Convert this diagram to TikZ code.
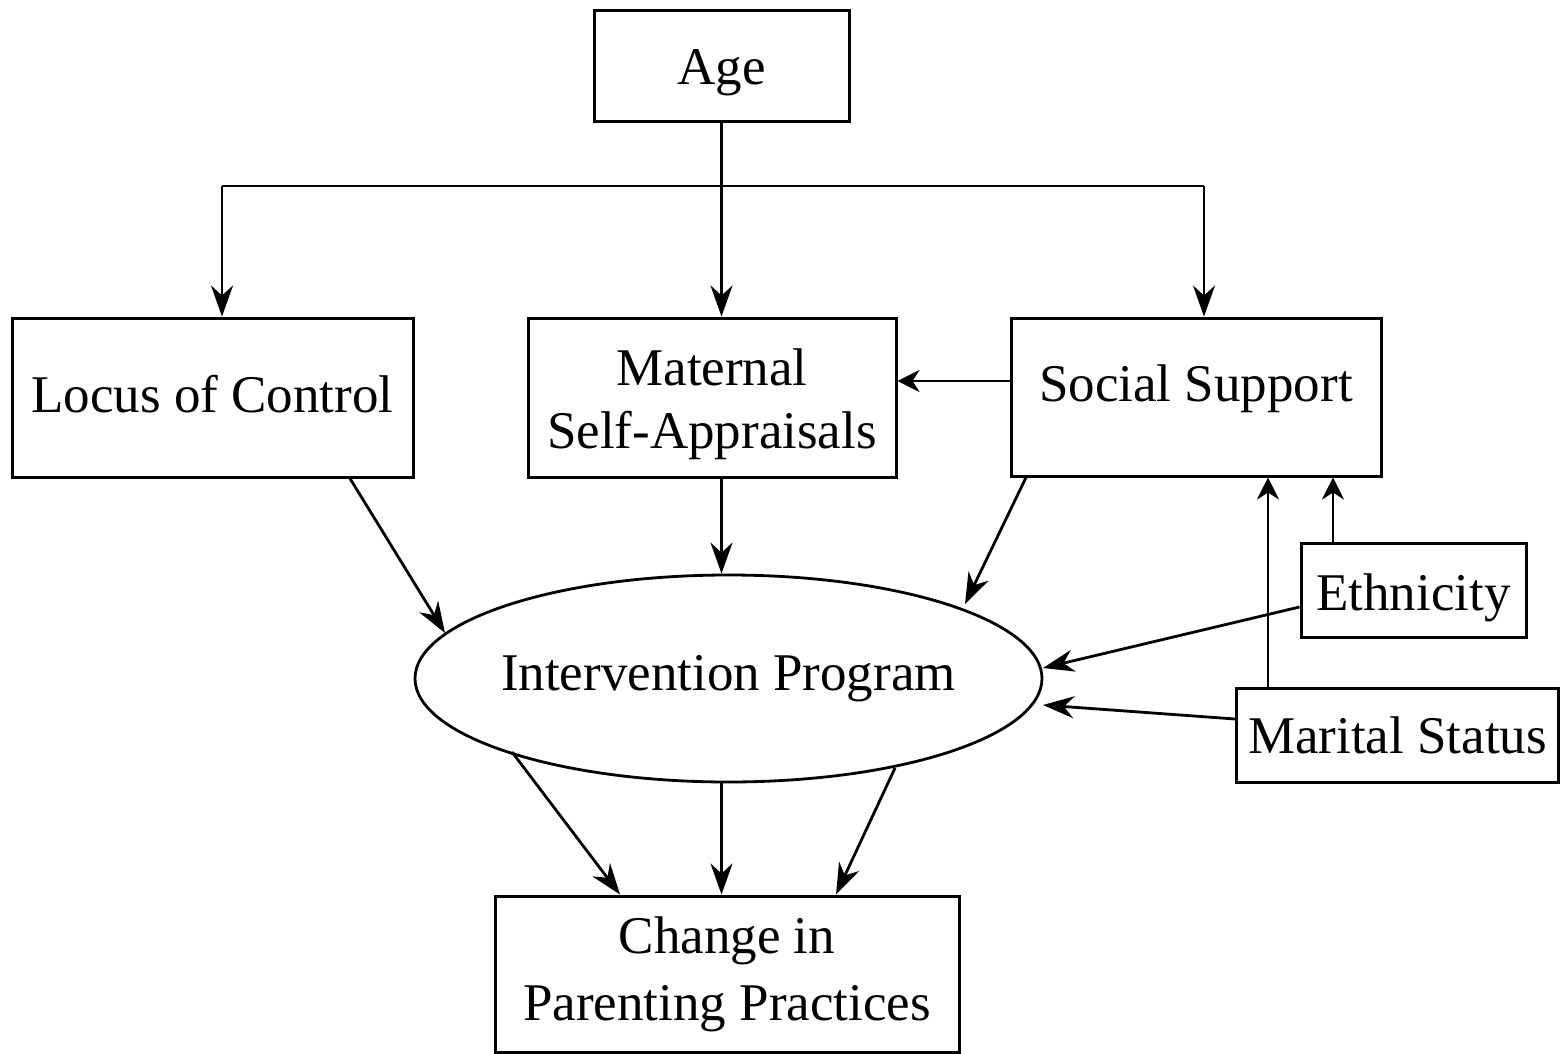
\documentclass[tikz,border=0pt]{standalone}
\usepackage{fontspec}
\setmainfont{Liberation Serif}
\usetikzlibrary{arrows.meta,calc,shapes.geometric}
\begin{document}
\begin{tikzpicture}[x=0.5pt,y=-0.5pt,
  every node/.style={font=\fontsize{26.5pt}{32pt}\selectfont, inner sep=0pt, align=center},
  box/.style={draw, line width=1.5pt, rectangle},
  oval/.style={draw, line width=1.4pt, ellipse},
  conn/.style={line width=1.4pt},
  arr/.style={conn, -{Stealth[length=15.5pt,width=11pt,inset=5pt]}},
  arrshort/.style={conn, -{Stealth[length=11pt,width=11pt,inset=3.5pt]}}]
\useasboundingbox (0,0) rectangle (1563,1054);
% nodes
\node[box, minimum width=127.5pt, minimum height=55.5pt, text height=25pt, text depth=6.5pt] (age) at (721.5,66.5) {Age};
\node[box, minimum width=200.5pt, minimum height=79.5pt, text height=25pt, text depth=10.5pt] (loc) at (212.5,397.5) {Locus of Control};
\node[box, minimum width=184pt, minimum height=79.5pt, text height=60pt, text depth=9.5pt,
      font=\fontsize{26.5pt}{31.5pt}\selectfont] (mat) at (712,397.5) {Maternal\\Self-Appraisals};
\node[box, minimum width=185pt, minimum height=79pt, text height=25pt, text depth=21pt] (soc) at (1196,397) {Social Support};
\node[box, minimum width=112.5pt, minimum height=47pt, text height=25pt, text depth=5pt] (eth) at (1413.5,590) {Ethnicity};
\node[box, minimum width=161pt, minimum height=47pt, text height=25pt, text depth=7pt] (mar) at (1397.5,735) {Marital Status};
\node[oval, minimum width=313.5pt, minimum height=103.5pt, text height=25pt, text depth=13.5pt] (ell) at (728.5,678.5) {\makebox[0pt]{Intervention Program}};
\node[box, minimum width=232pt, minimum height=78pt, text height=60pt, text depth=14pt,
      font=\fontsize{26.5pt}{33.5pt}\selectfont] (chg) at (727,974) {Change in\\Parenting Practices};
% age tree
\coordinate (bl) at (222,186);
\coordinate (bm) at (721.5,186);
\coordinate (br) at (1204,186);
\draw[conn] (age.south) -- (bm);
\draw[conn] (bl) -- (br);
\draw[arr] (bl) -- (bl |- loc.north);
\draw[arr] (bm) -- (bm |- mat.north);
\draw[arr] (br) -- (br |- soc.north);
% social -> maternal
\draw[arrshort] ([yshift=8pt]soc.west) -- ([yshift=8pt]soc.west -| mat.east);
% into the ellipse
\draw[arr] ([xshift=68.75pt]loc.south) -- ($(ell.center)+(-283.5,-45.5)$);
\draw[arr] (bm |- mat.south) -- (bm |- ell.north);
\draw[arr] ([xshift=-85pt]soc.south) -- ($(ell.center)+(236.5,-74.5)$);
\draw[arr] ([yshift=-8.5pt]eth.west) -- ($(ell.center)+(314.5,-10.5)$);
\draw[arr] ([yshift=8pt]mar.west) -- ($(ell.center)+(314.5,26.5)$);
% into social support
\draw[arrshort] ([xshift=-64.75pt]mar.north) -- ([xshift=-64.75pt]mar.north |- soc.south);
\draw[arrshort] ([xshift=-40.25pt]eth.north) -- ([xshift=-40.25pt]eth.north |- soc.south);
% ellipse -> change
\draw[arr] ($(ell.center)+(-216.5,73.5)$) -- ([xshift=-53.5pt]chg.north);
\draw[arr] (bm |- ell.south) -- (bm |- chg.north);
\draw[arr] ($(ell.center)+(166.5,89.5)$) -- ([xshift=54.5pt]chg.north);
\end{tikzpicture}
\end{document}
